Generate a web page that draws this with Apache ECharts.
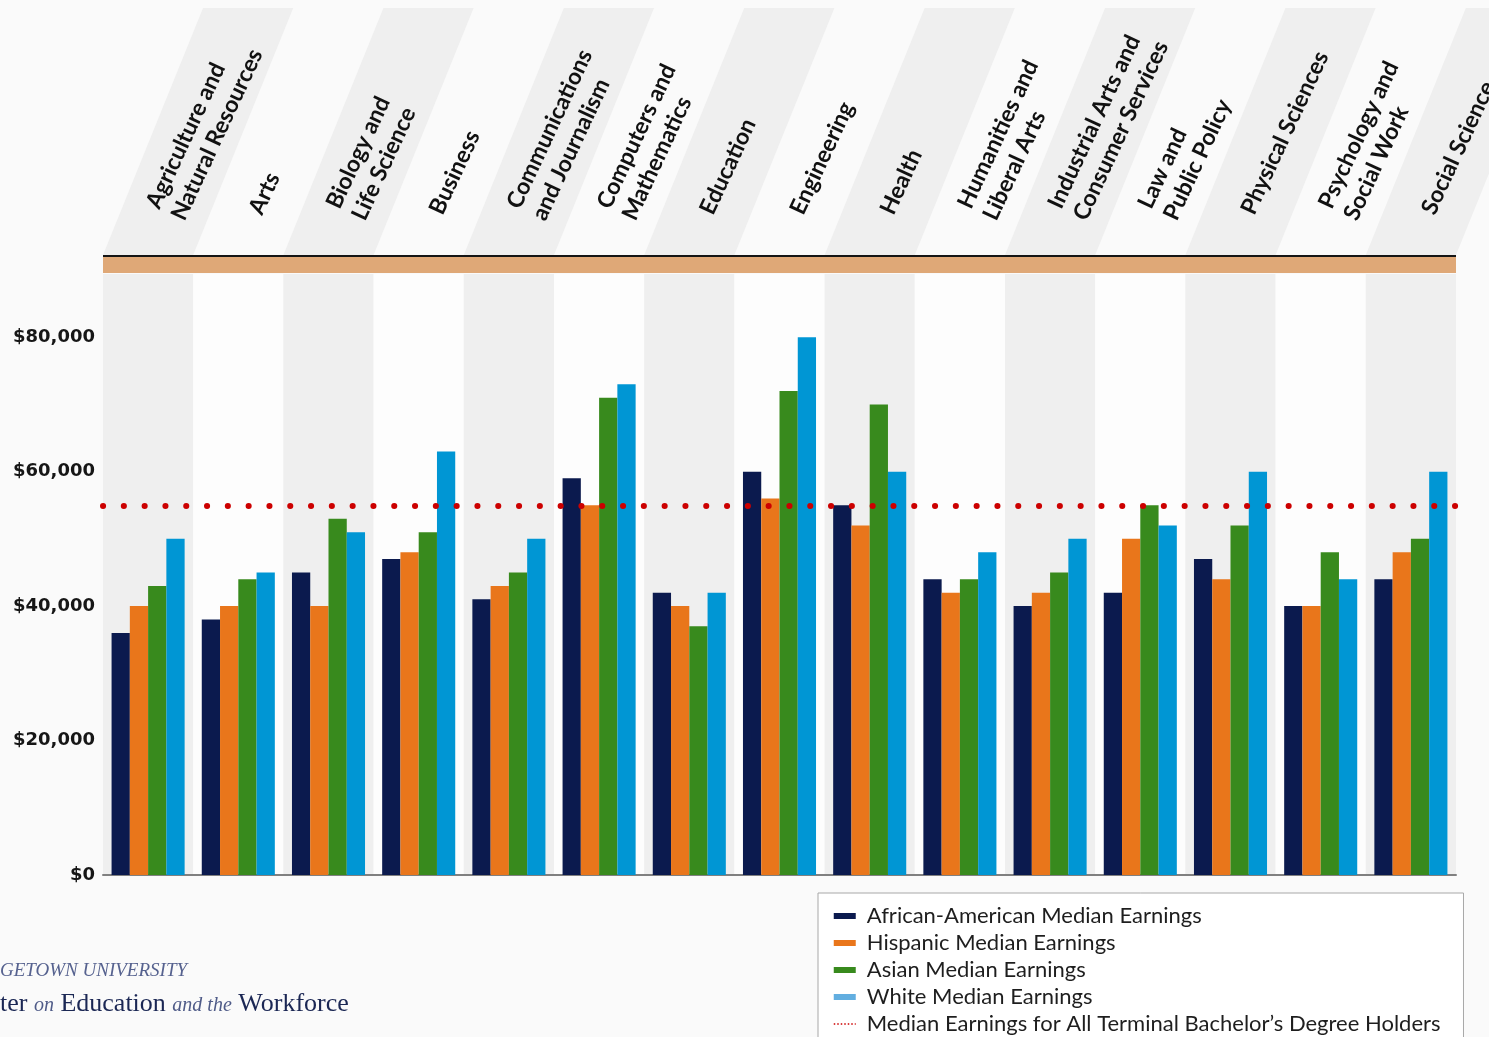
<!DOCTYPE html>
<html>
<head>
<meta charset="utf-8">
<script src="https://cdn.jsdelivr.net/npm/echarts@6/dist/echarts.min.js"></script>
<style>
  html, body { margin: 0; padding: 0; background: #fafafa; }
  #chart { width: 1489px; height: 1037px; }
</style>
</head>
<body>
<div id="chart"></div>
<script>
// ---------- DATA ----------
const categories = [
  'Agriculture and\nNatural Resources', 'Arts', 'Biology and\nLife Science', 'Business',
  'Communications\nand Journalism', 'Computers and\nMathematics', 'Education', 'Engineering',
  'Health', 'Humanities and\nLiberal Arts', 'Industrial Arts and\nConsumer Services',
  'Law and\nPublic Policy', 'Physical Sciences', 'Psychology and\nSocial Work', 'Social Science'
];
const seriesNames = [
  'African-American Median Earnings', 'Hispanic Median Earnings',
  'Asian Median Earnings', 'White Median Earnings'
];
const medianName = 'Median Earnings for All Terminal Bachelor\u2019s Degree Holders';
const africanAmerican = [36000, 38000, 45000, 47000, 41000, 59000, 42000, 60000, 55000, 44000, 40000, 42000, 47000, 40000, 44000];
const hispanic        = [40000, 40000, 40000, 48000, 43000, 55000, 40000, 56000, 52000, 42000, 42000, 50000, 44000, 40000, 48000];
const asian           = [43000, 44000, 53000, 51000, 45000, 71000, 37000, 72000, 70000, 44000, 45000, 55000, 52000, 48000, 50000];
const white           = [50000, 45000, 51000, 63000, 50000, 73000, 42000, 80000, 60000, 48000, 50000, 52000, 60000, 44000, 60000];
const medianAll = 55000;
const yTicks = [0, 20000, 40000, 60000, 80000];
const logoTop = 'GEORGETOWN UNIVERSITY';
const logoBottom = ['Center', 'on', 'Education', 'and the', 'Workforce'];

// ---------- STYLE ----------
const colors = ['#0b1a4e', '#e9761b', '#388a1d', '#0096d4'];
const legendColors = ['#0b1a4e', '#e9761b', '#388a1d', '#62aee0'];
const yMax = 89400;

const chart = echarts.init(document.getElementById('chart'), null, { renderer: 'canvas' });

const barSeries = [africanAmerican, hispanic, asian, white].map((d, i) => ({
  name: seriesNames[i],
  type: 'bar',
  data: d,
  barGap: '0%',
  barCategoryGap: '19%',
  itemStyle: { color: colors[i] },
  emphasis: { disabled: true },
  z: 2
}));

const option = {
  backgroundColor: '#fafafa',
  animation: false,
  grid: { left: 103, right: 33, top: 274, bottom: 162, containLabel: false },
  xAxis: {
    type: 'category',
    data: categories,
    axisLabel: { show: false },
    axisTick: { show: false },
    axisLine: { show: true, lineStyle: { color: '#808080', width: 2 } },
    splitArea: { show: true, interval: 0, areaStyle: { color: ['#efefef', '#fdfdfd'] } }
  },
  yAxis: {
    type: 'value',
    min: 0,
    max: yMax,
    interval: 20000,
    splitLine: { show: false },
    axisLine: { show: false },
    axisTick: { show: false },
    axisLabel: {
      showMaxLabel: false,
      margin: 8,
      color: '#161616',
      fontFamily: 'DejaVu Sans',
      fontWeight: 'bold',
      fontSize: 18,
      formatter: v => yTicks.indexOf(v) >= 0 ? '$' + v.toLocaleString('en-US') : ''
    }
  },
  legend: {
    orient: 'vertical',
    left: 818,
    top: 893,
    height: 240,
    padding: [12, 23, 40, 15],
    itemGap: 5,
    itemWidth: 22,
    itemHeight: 6,
    backgroundColor: '#ffffff',
    borderColor: '#a8a8a8',
    borderWidth: 1,
    borderRadius: 0,
    selectedMode: false,
    textStyle: {
      fontFamily: 'Lato',
      fontSize: 22,
      lineHeight: 22,
      color: '#1e1e1e',
      padding: [0, 0, 0, 6]
    },
    data: seriesNames.map((n, i) => ({ name: n, icon: 'rect', itemStyle: { color: legendColors[i] } }))
      .concat([{ name: medianName, itemStyle: { opacity: 0 }, lineStyle: { color: '#cc0000', width: 1.5, type: [1.5, 2] } }])
  },
  series: barSeries.concat([{
    name: medianName,
    type: 'line',
    data: [],
    symbol: 'none',
    itemStyle: { color: '#cc0000' },
    lineStyle: { color: '#cc0000', width: 1.5, type: [1.5, 2] },
    markLine: {
      silent: true,
      symbol: ['none', 'none'],
      label: { show: false },
      emphasis: { disabled: true },
      lineStyle: { color: '#cc0000', width: 6, type: [0.1, 20.7], cap: 'round' },
      data: [{ yAxis: medianAll }]
    },
    z: 5
  }])
};

chart.setOption(option);

// ---------- HEADER & DECORATION (positioned from the axis scales) ----------
function measure(text, font) {
  const c = document.createElement('canvas').getContext('2d');
  c.font = font;
  return c.measureText(text).width;
}

const centers = categories.map((c, i) => chart.convertToPixel({ xAxisIndex: 0 }, i));
const bandW = centers[1] - centers[0];
const leftEdge = centers[0] - bandW / 2;
const rightEdge = centers[centers.length - 1] + bandW / 2;
const gridTop = chart.convertToPixel({ yAxisIndex: 0 }, yMax);
const stripeBottom = gridTop - 19;
const stripeTop = 8;
const slant = 0.405; // horizontal shift per vertical pixel
const labelY = 213;
const rot = 65 * Math.PI / 180;

const graphics = [];
centers.forEach((cx, i) => {
  const x0 = cx - bandW / 2;
  const shift = (stripeBottom - stripeTop) * slant;
  if (i % 2 === 0) {
    graphics.push({
      type: 'polygon', silent: true, z: 0,
      shape: { points: [[x0, stripeBottom], [x0 + bandW, stripeBottom], [x0 + bandW + shift, stripeTop], [x0 + shift, stripeTop]] },
      style: { fill: '#efefef' }
    });
  }
  graphics.push({
    type: 'text', silent: true, z: 3,
    x: cx + (stripeBottom - labelY) * slant,
    y: labelY,
    rotation: rot,
    style: {
      text: categories[i],
      align: 'left',
      verticalAlign: 'middle',
      font: 'bold 23px Lato',
      lineHeight: 28,
      fill: '#111111'
    }
  });
});
// black rule + tan band
graphics.push({ type: 'rect', silent: true, z: 3, shape: { x: leftEdge, y: stripeBottom, width: rightEdge - leftEdge, height: 2 }, style: { fill: '#151515' } });
graphics.push({ type: 'rect', silent: true, z: 3, shape: { x: leftEdge, y: stripeBottom + 2, width: rightEdge - leftEdge, height: 16 }, style: { fill: '#dfa877' } });

// logo (cut off at left edge as in reference)
const topFont = 'italic 19px "Liberation Serif"';
graphics.push({
  type: 'text', silent: true, z: 3,
  x: -measure('GEOR', topFont), y: 971,
  style: { text: logoTop, font: topFont, fill: '#56628f', verticalAlign: 'middle', align: 'left' }
});
const regFont = '26px "Liberation Serif"';
graphics.push({
  type: 'text', silent: true, z: 3,
  x: -measure('Cen', regFont), y: 1004,
  style: {
    text: '{r|' + logoBottom[0] + ' }{i|' + logoBottom[1] + '}{r| ' + logoBottom[2] + ' }{i|' + logoBottom[3] + '}{r| ' + logoBottom[4] + '}',
    align: 'left', verticalAlign: 'middle',
    rich: {
      r: { fontFamily: 'Liberation Serif', fontSize: 26, fill: '#1b2754', color: '#1b2754' },
      i: { fontFamily: 'Liberation Serif', fontStyle: 'italic', fontSize: 20, fill: '#4f5b88', color: '#4f5b88', padding: [4, 0, 0, 0] }
    }
  }
});

chart.setOption({ graphic: { elements: graphics } });
</script>
</body>
</html>
